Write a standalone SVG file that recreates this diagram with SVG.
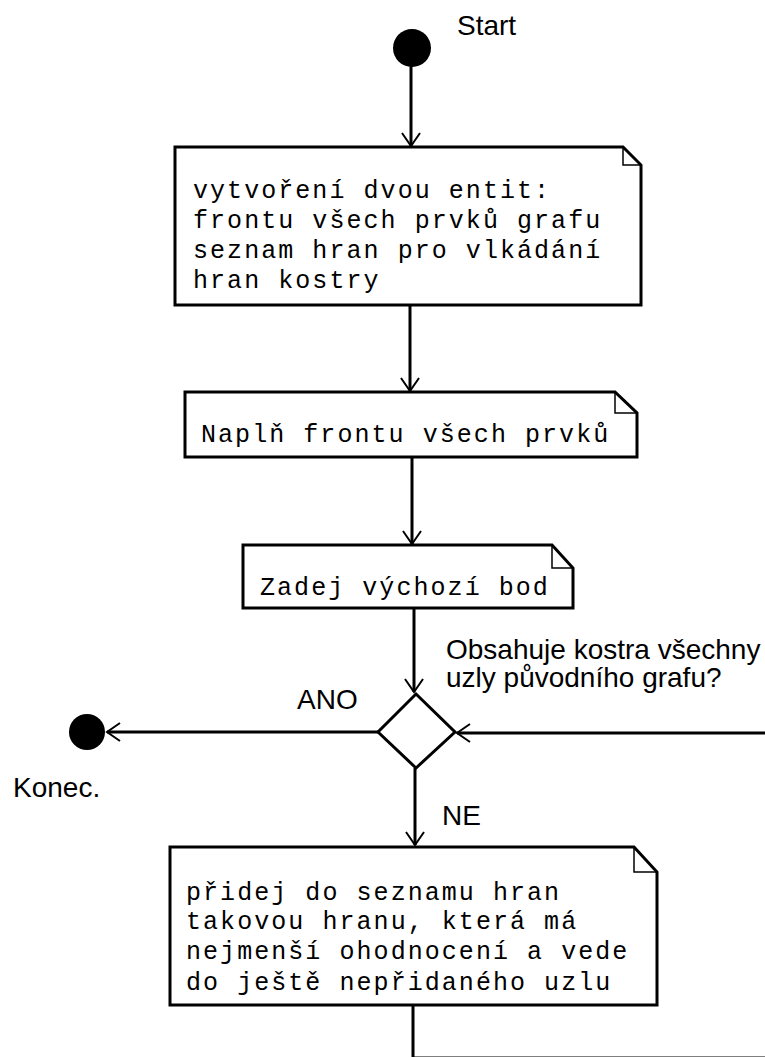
<svg xmlns="http://www.w3.org/2000/svg" width="765" height="1057" viewBox="0 0 765 1057">
<defs>
<style>
.box{fill:#fff;stroke:#000;stroke-width:3;stroke-linejoin:miter}
.fold{fill:none;stroke:#000;stroke-width:1.5}
.mono{font-family:"Liberation Mono","Courier New",monospace;font-size:25px;letter-spacing:2.05px;fill:#000}
.lbl{font-family:"Liberation Sans",Arial,sans-serif;font-size:28px;fill:#000}
.edge{fill:none;stroke:#000;stroke-width:3}
.dot{fill:#000}
</style>
<marker id="arr" markerUnits="userSpaceOnUse" viewBox="-14 -10 16 20" refX="0" refY="0" markerWidth="16" markerHeight="20" orient="auto">
<path d="M-13,-9 L0,0 L-13,9" fill="none" stroke="#000" stroke-width="2"/>
</marker>
</defs>
<rect width="765" height="1057" fill="#fff"/>
<g id="connectors">
<path class="edge" d="M411,66 V146" marker-end="url(#arr)"/>
<path class="edge" d="M410,305 V391" marker-end="url(#arr)"/>
<path class="edge" d="M412,457 V544" marker-end="url(#arr)"/>
<path class="edge" d="M414,608 V692" marker-end="url(#arr)"/>
<path class="edge" d="M378,732 H107" marker-end="url(#arr)"/>
<path class="edge" d="M415,768 V845" marker-end="url(#arr)"/>
<path class="edge" d="M413,1005 V1058 H767 V733 H457" marker-end="url(#arr)"/>
</g>
<g id="start">
<circle class="dot" cx="412" cy="48" r="19"/>
<text class="lbl" x="457" y="35">Start</text>
</g>
<g id="box1">
<path class="box" d="M175,147 H623 L641,165 V305 H175 Z"/>
<path class="fold" d="M623,147 V165 H641"/>
<text class="mono" x="193" y="198">vytvoření dvou entit:</text>
<text class="mono" x="193" y="228">frontu všech prvků grafu</text>
<text class="mono" x="193" y="258">seznam hran pro vlkádání</text>
<text class="mono" x="193" y="288">hran kostry</text>
</g>
<g id="box2">
<path class="box" d="M185,392 H615 L637,413 V457 H185 Z"/>
<path class="fold" d="M615,392 V413 H637"/>
<text class="mono" x="201" y="442">Naplň frontu všech prvků</text>
</g>
<g id="box3">
<path class="box" d="M243,545 H552 L573,568 V608 H243 Z"/>
<path class="fold" d="M552,545 V568 H573"/>
<text class="mono" x="260" y="595">Zadej výchozí bod</text>
</g>
<g id="decision">
<path class="box" d="M416,694 L455,732 L416,768 L378,732 Z"/>
<text class="lbl" x="446" y="659">Obsahuje kostra všechny</text>
<text class="lbl" x="446" y="687">uzly původního grafu?</text>
<text class="lbl" x="297" y="709">ANO</text>
<text class="lbl" x="442" y="825">NE</text>
</g>
<g id="end">
<circle class="dot" cx="87" cy="732" r="18"/>
<text class="lbl" x="13" y="797">Konec.</text>
</g>
<g id="box4">
<path class="box" d="M170,847 H634 L657,872 V1005 H170 Z"/>
<path class="fold" d="M634,847 V872 H657"/>
<text class="mono" x="186" y="900">přidej do seznamu hran</text>
<text class="mono" x="186" y="929">takovou hranu, která má</text>
<text class="mono" x="186" y="959">nejmenší ohodnocení a vede</text>
<text class="mono" x="186" y="990">do ještě nepřidaného uzlu</text>
</g>
</svg>
